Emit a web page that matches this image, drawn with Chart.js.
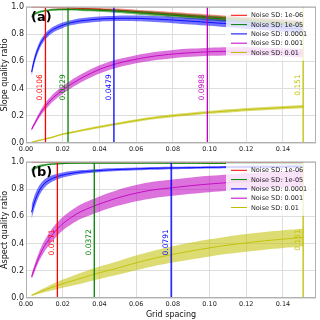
<!DOCTYPE html>
<html>
<head>
<meta charset="utf-8">
<script src="https://cdn.jsdelivr.net/npm/chart.js@4"></script>
<style>
  html, body { margin: 0; padding: 0; background: #fff; }
  #wrap { position: relative; width: 320px; height: 320px; }
  canvas { position: absolute; left: 0; }
  #chart-a { top: 0; }
  #chart-b { top: 155px; }
</style>
</head>
<body>
<div id="wrap">
  <canvas id="chart-a" width="320" height="155"></canvas>
  <canvas id="chart-b" width="320" height="165"></canvas>
</div>
<script>
const gridSpacing = [0.003, 0.005, 0.0075, 0.01, 0.0125, 0.015, 0.02, 0.025, 0.03, 0.04, 0.05,
  0.06, 0.07, 0.08, 0.09, 0.1, 0.11, 0.12, 0.13, 0.14, 0.151];

const noiseLabels = ["Noise SD: 1e-06", "Noise SD: 1e-05", "Noise SD: 0.0001", "Noise SD: 0.001", "Noise SD: 0.01"];

// slope quality ratio (mean and half width of band)
const slopeMean1 = [0.998, 0.998, 0.997, 0.996, 0.995, 0.994, 0.993, 0.991, 0.988, 0.982, 0.975, 0.966, 0.956, 0.946, 0.936, 0.926, 0.916, 0.906, 0.896, 0.886, 0.875];
const slopeMean2 = [0.93, 0.95, 0.963, 0.97, 0.975, 0.978, 0.98, 0.98, 0.978, 0.974, 0.967, 0.958, 0.948, 0.938, 0.928, 0.918, 0.908, 0.898, 0.888, 0.878, 0.868];
const slopeMean3 = [0.52, 0.63, 0.72, 0.775, 0.81, 0.835, 0.865, 0.885, 0.897, 0.91, 0.915, 0.915, 0.91, 0.903, 0.894, 0.885, 0.875, 0.865, 0.855, 0.845, 0.835];
const slopeMean4 = [0.1, 0.15, 0.21, 0.26, 0.3, 0.335, 0.39, 0.435, 0.475, 0.54, 0.585, 0.615, 0.638, 0.653, 0.663, 0.67, 0.673, 0.673, 0.67, 0.665, 0.66];
const slopeMean5 = [0.005, 0.012, 0.02, 0.028, 0.036, 0.045, 0.065, 0.078, 0.092, 0.118, 0.142, 0.165, 0.185, 0.2, 0.213, 0.225, 0.235, 0.245, 0.253, 0.26, 0.267];

const slopeSpread1 = [0.003, 0.003, 0.003, 0.004, 0.004, 0.005, 0.006, 0.007, 0.008, 0.01, 0.012, 0.013, 0.015, 0.016, 0.017, 0.018, 0.019, 0.02, 0.021, 0.022, 0.023];
const slopeSpread2 = [0.012, 0.01, 0.008, 0.007, 0.007, 0.007, 0.007, 0.008, 0.009, 0.011, 0.013, 0.014, 0.016, 0.017, 0.018, 0.019, 0.02, 0.021, 0.022, 0.023, 0.024];
const slopeSpread3 = [0.03, 0.028, 0.026, 0.024, 0.022, 0.021, 0.02, 0.019, 0.019, 0.019, 0.02, 0.021, 0.022, 0.023, 0.024, 0.025, 0.026, 0.027, 0.028, 0.029, 0.03];
const slopeSpread4 = [0.012, 0.016, 0.02, 0.024, 0.026, 0.027, 0.028, 0.029, 0.029, 0.03, 0.03, 0.03, 0.03, 0.03, 0.03, 0.03, 0.03, 0.03, 0.03, 0.03, 0.03];
const slopeSpread5 = [0.004, 0.004, 0.005, 0.005, 0.006, 0.006, 0.007, 0.008, 0.008, 0.009, 0.009, 0.01, 0.01, 0.011, 0.011, 0.011, 0.012, 0.012, 0.012, 0.012, 0.012];

// aspect quality ratio
const aspectMean1 = [0.996, 0.996, 0.996, 0.996, 0.996, 0.996, 0.996, 0.996, 0.996, 0.996, 0.995, 0.995, 0.995, 0.995, 0.995, 0.994, 0.994, 0.994, 0.994, 0.993, 0.993];
const aspectMean2 = [0.94, 0.955, 0.968, 0.976, 0.981, 0.984, 0.987, 0.989, 0.99, 0.99, 0.99, 0.99, 0.99, 0.989, 0.989, 0.988, 0.988, 0.987, 0.987, 0.986, 0.986];
const aspectMean3 = [0.63, 0.72, 0.795, 0.84, 0.865, 0.882, 0.903, 0.916, 0.925, 0.936, 0.943, 0.948, 0.952, 0.955, 0.957, 0.959, 0.961, 0.962, 0.963, 0.964, 0.965];
const aspectMean4 = [0.155, 0.23, 0.315, 0.38, 0.43, 0.475, 0.545, 0.595, 0.635, 0.69, 0.735, 0.77, 0.795, 0.81, 0.825, 0.837, 0.847, 0.856, 0.864, 0.871, 0.877];
const aspectMean5 = [0.02, 0.03, 0.045, 0.058, 0.07, 0.082, 0.105, 0.125, 0.145, 0.185, 0.22, 0.258, 0.292, 0.32, 0.345, 0.368, 0.388, 0.405, 0.42, 0.432, 0.445];

const aspectSpread1 = [0.003, 0.003, 0.003, 0.003, 0.003, 0.003, 0.003, 0.003, 0.003, 0.003, 0.003, 0.003, 0.003, 0.003, 0.003, 0.003, 0.003, 0.003, 0.003, 0.003, 0.003];
const aspectSpread2 = [0.014, 0.012, 0.01, 0.008, 0.007, 0.006, 0.005, 0.004, 0.004, 0.004, 0.004, 0.004, 0.004, 0.004, 0.004, 0.004, 0.004, 0.004, 0.004, 0.004, 0.004];
const aspectSpread3 = [0.05, 0.045, 0.036, 0.03, 0.026, 0.023, 0.019, 0.016, 0.014, 0.012, 0.011, 0.01, 0.01, 0.009, 0.009, 0.009, 0.009, 0.009, 0.009, 0.009, 0.009];
const aspectSpread4 = [0.02, 0.028, 0.035, 0.04, 0.045, 0.048, 0.05, 0.052, 0.054, 0.056, 0.058, 0.059, 0.06, 0.06, 0.06, 0.06, 0.06, 0.06, 0.06, 0.06, 0.06];
const aspectSpread5 = [0.005, 0.008, 0.012, 0.015, 0.02, 0.024, 0.03, 0.035, 0.04, 0.046, 0.05, 0.054, 0.057, 0.06, 0.062, 0.063, 0.064, 0.065, 0.065, 0.065, 0.065];

// optimal spacing markers (null = off the axis)
const slopeOptimal = [0.0106, 0.0229, 0.0479, 0.0988, 0.151];
const aspectOptimal = [0.0171, 0.0372, 0.0791, null, 0.151];

const xTicks = [0, 0.02, 0.04, 0.06, 0.08, 0.1, 0.12, 0.14];
const yTicks = [0, 0.2, 0.4, 0.6, 0.8, 1.0];

const lineColors = ["#ff0000", "#008000", "#0000ff", "#bf00bf", "#bfbf00"];
const bandColors = ["rgba(255,0,0,0.45)", "rgba(0,128,0,0.55)", "rgba(0,0,255,0.55)", "rgba(191,0,191,0.55)", "rgba(191,191,0,0.55)"];

const FONT = "'DejaVu Sans', sans-serif";

function pts(values) {
  return gridSpacing.map((x, i) => ({ x: x, y: values[i] }));
}

function buildDatasets(means, spreads, optimal) {
  const sets = [];
  for (let k = 0; k < means.length; k++) {
    const upper = means[k].map((m, i) => m + spreads[k][i]);
    const lower = means[k].map((m, i) => m - spreads[k][i]);
    sets.push({ data: pts(upper), borderWidth: 0, pointRadius: 0, fill: false, tension: 0.3, clip: 0 });
    sets.push({ data: pts(lower), borderWidth: 0, pointRadius: 0, fill: "-1", backgroundColor: bandColors[k], tension: 0.3, clip: 0 });
    sets.push({ label: noiseLabels[k], data: pts(means[k]), borderColor: lineColors[k], borderWidth: 0.9, pointRadius: 0, fill: false, tension: 0.3, clip: 0, isMean: true });
  }
  for (let k = 0; k < optimal.length; k++) {
    if (optimal[k] === null) continue;
    sets.push({ data: [{ x: optimal[k], y: 0 }, { x: optimal[k], y: 1 }], borderColor: lineColors[k], borderWidth: 1.3, pointRadius: 0, fill: false, clip: 0, vline: optimal[k] });
  }
  // first in list drawn first (bottom)
  sets.forEach((s, i) => { s.order = sets.length - i; });
  return sets;
}

const extras = {
  id: "extras",
  afterDatasetsDraw(chart) {
    const ctx = chart.ctx;
    const area = chart.chartArea;
    const xs = chart.scales.x;
    const ys = chart.scales.y;
    ctx.save();
    // labels next to the optimal spacing lines
    ctx.font = "7.5px " + FONT;
    chart.data.datasets.forEach(ds => {
      if (ds.vline === undefined) return;
      const px = xs.getPixelForValue(ds.vline);
      ctx.save();
      ctx.translate(px - 1.5, ys.getPixelForValue(0.505));
      ctx.rotate(-Math.PI / 2);
      ctx.fillStyle = ds.borderColor;
      ctx.textAlign = "right";
      ctx.textBaseline = "bottom";
      ctx.fillText(ds.vline.toString(), 0, 0);
      ctx.restore();
    });
    // legend
    const means = chart.data.datasets.filter(ds => ds.isMean);
    const lx = area.right - 86;
    ctx.fillStyle = "rgba(255,255,255,0.8)";
    ctx.fillRect(lx - 4, area.top + 1, area.right - lx + 3, 53);
    ctx.font = "6.5px " + FONT;
    ctx.textAlign = "left";
    ctx.textBaseline = "middle";
    means.forEach((ds, i) => {
      const y = area.top + 8.5 + i * 9.3;
      ctx.strokeStyle = ds.borderColor;
      ctx.lineWidth = 1;
      ctx.beginPath();
      ctx.moveTo(lx + 1, y);
      ctx.lineTo(lx + 17, y);
      ctx.stroke();
      ctx.fillStyle = "#222";
      ctx.fillText(ds.label, lx + 21, y + 0.5);
    });
    // frame
    ctx.strokeStyle = "#b0b0b0";
    ctx.lineWidth = 1;
    ctx.strokeRect(area.left + 0.5, area.top + 0.5, area.right - area.left - 1, area.bottom - area.top - 1);
    // panel tag
    ctx.fillStyle = "#000";
    ctx.font = "bold 13px " + FONT;
    ctx.textAlign = "left";
    ctx.textBaseline = "alphabetic";
    ctx.fillText(chart.options.panelTag, area.left + 5, area.top + 14);
    ctx.restore();
  }
};

function createChart(element, tag, yTitle, means, spreads, optimal, showXTitle) {
  return new Chart(element, {
    type: "line",
    data: { datasets: buildDatasets(means, spreads, optimal) },
    options: {
      panelTag: tag,
      responsive: false,
      animation: false,
      events: [],
      layout: { padding: { top: 5, right: 4, left: 0, bottom: 0 } },
      plugins: { legend: { display: false }, tooltip: { enabled: false } },
      scales: {
        x: {
          type: "linear",
          min: 0,
          max: 0.158,
          afterBuildTicks: s => { s.ticks = xTicks.map(v => ({ value: v })); },
          afterFit: s => { s.height = showXTitle ? 22 : 12; },
          grid: { color: "#dedede", lineWidth: 1, drawTicks: false },
          border: { display: false },
          ticks: {
            padding: 2,
            maxRotation: 0,
            color: "#222",
            font: { family: FONT, size: 6.5 },
            callback: v => v.toFixed(2)
          },
          title: {
            display: showXTitle,
            text: "Grid spacing",
            color: "#111",
            padding: { top: 0, bottom: 0 },
            font: { family: FONT, size: 8 }
          }
        },
        y: {
          min: 0,
          max: 1,
          afterBuildTicks: s => { s.ticks = yTicks.map(v => ({ value: v })); },
          afterFit: s => { s.width = 26; },
          grid: { color: "#dedede", lineWidth: 1, drawTicks: false },
          border: { display: false },
          ticks: {
            padding: 2,
            color: "#222",
            font: { family: FONT, size: 8 },
            callback: v => v.toFixed(1)
          },
          title: {
            display: true,
            text: yTitle,
            color: "#111",
            padding: { top: 0, bottom: 0 },
            font: { family: FONT, size: 8 }
          }
        }
      }
    },
    plugins: [extras]
  });
}

createChart(document.getElementById("chart-a"), "(a)", "Slope quality ratio",
  [slopeMean1, slopeMean2, slopeMean3, slopeMean4, slopeMean5],
  [slopeSpread1, slopeSpread2, slopeSpread3, slopeSpread4, slopeSpread5],
  slopeOptimal, false);

createChart(document.getElementById("chart-b"), "(b)", "Aspect quality ratio",
  [aspectMean1, aspectMean2, aspectMean3, aspectMean4, aspectMean5],
  [aspectSpread1, aspectSpread2, aspectSpread3, aspectSpread4, aspectSpread5],
  aspectOptimal, true);
</script>
</body>
</html>
